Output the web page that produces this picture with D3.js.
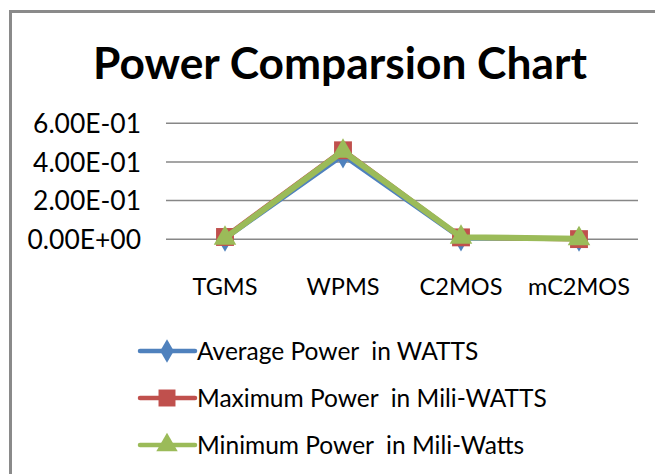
<!DOCTYPE html>
<html>
<head>
<meta charset="utf-8">
<script src="https://cdn.jsdelivr.net/npm/d3@7/dist/d3.min.js"></script>
<style>
  html, body { margin: 0; padding: 0; background: #fff; }
  svg text { white-space: pre; font-family: Lato, "Open Sans", sans-serif; fill: #000; }
  .lbl { font-weight: 400; }
</style>
</head>
<body>
<svg id="chart" width="655" height="474"></svg>
<script>
const categories = ["TGMS", "WPMS", "C2MOS", "mC2MOS"];
const avgPower = [0.0, 0.43, 0.002, 0.0];
const maxPower = [0.012, 0.46, 0.010, 0.001];
const minPower = [0.006, 0.455, 0.011, 0.003];
const seriesNames = ["Average Power  in WATTS", "Maximum Power  in Mili-WATTS", "Minimum Power  in Mili-Watts"];
const yTicks = [0, 0.2, 0.4, 0.6];
const titleText = "Power Comparsion Chart";

const svg = d3.select("#chart");
const W = 655, H = 474;

// frame
svg.append("rect").attr("x", 10.5).attr("y", 11.5).attr("width", W + 10).attr("height", H + 10)
  .attr("fill", "#fff").attr("stroke", "#8a8a8a").attr("stroke-width", 3);

function fitText(sel, targetWidth, startSize) {
  sel.attr("font-size", startSize);
  const w = sel.node().getComputedTextLength();
  sel.attr("font-size", startSize * targetWidth / w);
}

// title
const title = svg.append("text").attr("x", 340).attr("y", 79).attr("text-anchor", "middle")
  .attr("font-weight", "bold").text(titleText);
fitText(title, 494, 40);

const x = d3.scaleBand().domain(categories).range([166, 638]);
const y = d3.scaleLinear().domain([0, 0.6]).range([239.3, 123.2]);

// gridlines
svg.append("g").selectAll("line").data(yTicks).join("line")
  .attr("x1", 166).attr("x2", 638)
  .attr("y1", d => y(d)).attr("y2", d => y(d))
  .attr("stroke", "#878787").attr("stroke-width", 1.5);

// y axis labels
const yAxis = d3.axisLeft(y).tickValues(yTicks).tickSize(0).tickPadding(0)
  .tickFormat(d => { const s = d.toExponential(2).toUpperCase(); return s.replace(/E([+-])(\d)$/, "E$10$2"); });
const yg = svg.append("g").attr("transform", "translate(141,0)").call(yAxis);
yg.select(".domain").remove();
yg.selectAll("text").attr("class", "lbl").attr("font-family", "Lato, sans-serif").attr("fill", "#000").attr("dy", "0.35em");
{
  const t = yg.selectAll("text").filter(d => d === 0.6);
  t.attr("font-size", 20);
  const w = t.node().getComputedTextLength();
  yg.selectAll("text").attr("font-size", 20 * 108 / w);
}

// x axis labels
const xAxis = d3.axisBottom(x).tickSize(0).tickPadding(0);
const xg = svg.append("g").attr("transform", "translate(0,278)").call(xAxis);
xg.select(".domain").remove();
xg.selectAll("text").attr("class", "lbl").attr("font-family", "Lato, sans-serif").attr("fill", "#000").attr("dy", "0.35em");
{
  const t = xg.selectAll("text").filter(d => d === "mC2MOS");
  t.attr("font-size", 20);
  const w = t.node().getComputedTextLength();
  xg.selectAll("text").attr("font-size", 20 * 102 / w).attr("dy", "0.7em");
}

const series = [
  { name: seriesNames[0], values: avgPower, color: "#4F81BD", width: 3.5, marker: "diamond" },
  { name: seriesNames[1], values: maxPower, color: "#C0504D", width: 5, marker: "square" },
  { name: seriesNames[2], values: minPower, color: "#9BBB59", width: 6, marker: "triangle" }
];
const symMap = { diamond: d3.symbolDiamond, square: d3.symbolSquare, triangle: d3.symbolTriangle };
const symSize = { diamond: 180, square: 320, triangle: 220 };

const line = d3.line().x((d, i) => x(categories[i]) + x.bandwidth() / 2).y(d => y(d));
series.forEach(s => {
  const g = svg.append("g");
  g.append("path").datum(s.values).attr("d", line).attr("fill", "none")
    .attr("stroke", s.color).attr("stroke-width", s.width).attr("stroke-linejoin", "round");
  g.selectAll("path.m").data(s.values).join("path").attr("class", "m")
    .attr("d", d3.symbol(symMap[s.marker], symSize[s.marker]))
    .attr("transform", (d, i) => `translate(${x(categories[i]) + x.bandwidth() / 2},${y(d)})`)
    .attr("fill", s.color);
});

// legend
const legendY = d3.scalePoint().domain(seriesNames).range([351, 445]);
const lg = svg.append("g");
series.forEach(s => {
  const cy = legendY(s.name);
  lg.append("line").attr("x1", 140).attr("x2", 195).attr("y1", cy).attr("y2", cy)
    .attr("stroke", s.color).attr("stroke-width", 4.5).attr("stroke-linecap", "round");
  lg.append("path").attr("d", d3.symbol(symMap[s.marker], symSize[s.marker] * 0.9))
    .attr("transform", `translate(167,${cy})`).attr("fill", s.color);
  lg.append("text").attr("class", "lt lbl").attr("x", 197).attr("y", cy).attr("dy", "0.35em").text(s.name);
});
{
  const t = lg.selectAll("text.lt").filter((d, i) => i === 1);
  t.attr("font-size", 20);
  const w = t.node().getComputedTextLength();
  lg.selectAll("text.lt").attr("font-size", 20 * 350 / w);
}
</script>
</body>
</html>
